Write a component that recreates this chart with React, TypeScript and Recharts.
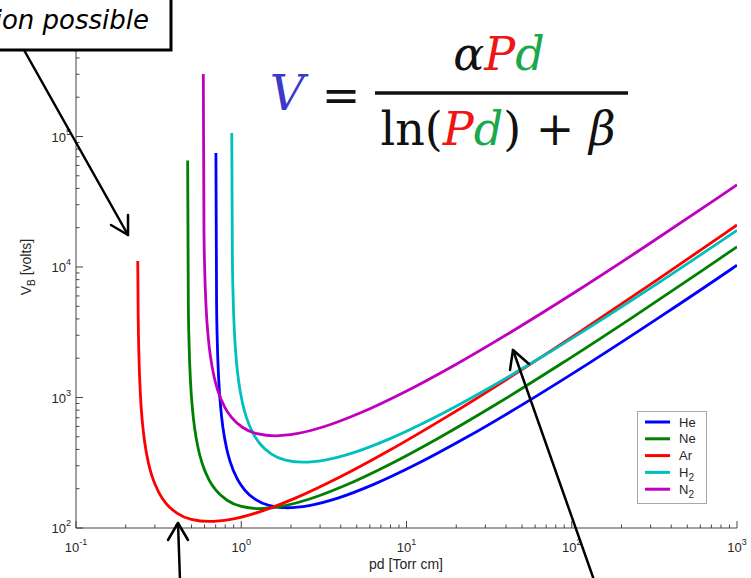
import React from 'react';
import { LineChart, Line, XAxis, YAxis } from 'recharts';

// pd [Torr cm] and breakdown voltage [V]
const pdHe = [0.7025, 0.709, 0.7162, 0.7306, 0.7529, 0.7758, 0.8156, 0.8574, 0.9476, 1.047, 1.217, 1.486, 1.908, 2.576, 3.843, 6.336, 11.54, 23.25, 51.74, 127.3, 345.9, 940.3, 1000];
const vHe = [74900, 5313, 2683, 1369, 806, 581, 407, 321, 236.7, 196.2, 165.7, 148.5, 143, 148.5, 169.4, 215.8, 308.9, 497.6, 901.6, 1834, 4181, 9784, 10320];

const pdNe = [0.4739, 0.4783, 0.4831, 0.4928, 0.5078, 0.5233, 0.5501, 0.5783, 0.6392, 0.7064, 0.8207, 1.002, 1.287, 1.737, 2.592, 4.273, 7.787, 15.68, 34.9, 85.83, 233.3, 634.2, 1000];
const vNe = [65400, 5232, 2642, 1348, 793.6, 572.4, 401.2, 316.3, 233.1, 193.2, 163.2, 146.2, 140.8, 146.2, 166.8, 212.5, 304.2, 490.1, 887.9, 1806, 4117, 9635, 14290];

const pdAr = [0.2364, 0.2379, 0.2403, 0.2451, 0.2526, 0.2603, 0.2736, 0.2876, 0.3179, 0.3513, 0.4082, 0.4986, 0.6402, 0.8641, 1.289, 2.125, 3.873, 7.799, 17.36, 42.69, 116, 315.4, 857.5, 1000];
const vAr = [11115, 4171, 2107, 1075, 632.7, 456.4, 319.9, 252.2, 185.9, 154, 130.1, 116.6, 112.3, 116.6, 133, 169.4, 242.6, 390.7, 707.9, 1440, 3283, 7682, 18337, 20993];

const pdH2 = [0.876, 0.8838, 0.8927, 0.9107, 0.9384, 0.9671, 1.017, 1.069, 1.181, 1.305, 1.517, 1.852, 2.379, 3.211, 4.79, 7.897, 14.39, 28.98, 64.49, 158.6, 431.2, 1000];
const vH2 = [106500, 11868, 5994, 3057, 1800, 1298, 910, 717.6, 528.8, 438.3, 370.2, 331.7, 319.4, 331.7, 378.4, 482, 690.1, 1112, 2014, 4096, 9339, 19073];

const pdN2 = [0.5894, 0.5949, 0.6009, 0.613, 0.6317, 0.651, 0.6843, 0.7194, 0.7951, 0.8787, 1.021, 1.247, 1.601, 2.161, 3.224, 5.316, 9.686, 19.51, 43.41, 106.8, 290.2, 788.9, 1000];
const vN2 = [301000, 18887, 9539, 4866, 2865, 2066, 1448, 1142, 841.5, 697.5, 589.2, 527.9, 508.3, 527.9, 602.1, 767.1, 1098, 1769, 3205, 6519, 14863, 34782, 42692];

const xDecades = [0.1, 1, 10, 100, 1000];
const yDecades = [100, 1000, 10000, 100000, 1000000];
const minorSteps = [2, 3, 4, 5, 6, 7, 8, 9];

const withMinor = (decades: number[]) =>
  decades.flatMap((d, i) => (i < decades.length - 1 ? [d, ...minorSteps.map((s) => d * s)] : [d]));

const xTicks = withMinor(xDecades);
const yTicks = withMinor(yDecades);

const series = [
  { name: 'He', pd: pdHe, v: vHe, color: '#0000ff' },
  { name: 'Ne', pd: pdNe, v: vNe, color: '#008000' },
  { name: 'Ar', pd: pdAr, v: vAr, color: '#ff0000' },
  { name: 'H', sub: '2', pd: pdH2, v: vH2, color: '#00bfbf' },
  { name: 'N', sub: '2', pd: pdN2, v: vN2, color: '#bf00bf' },
];

const AXIS = '#444';
const TEXT = '#262626';
const SANS = "'Liberation Sans', Arial, sans-serif";
const SERIF = "'DejaVu Serif', serif";

const isDecade = (v: number) => {
  const l = Math.log10(v);
  return Math.abs(l - Math.round(l)) < 1e-6;
};
const expOf = (v: number) => Math.round(Math.log10(v));

const BottomTick = ({ x, y, payload }: any) => {
  const major = isDecade(payload.value);
  return (
    <g>
      <line x1={x} y1={y} x2={x} y2={y - (major ? 7 : 3.5)} stroke={AXIS} />
      {major && (
        <text x={x} y={y + 24} textAnchor="middle" fontSize={13} fill={TEXT} fontFamily={SANS}>
          10<tspan dy={-7} fontSize={9}>{expOf(payload.value)}</tspan>
        </text>
      )}
    </g>
  );
};

const TopTick = ({ x, y, payload }: any) => (
  <line x1={x} y1={y} x2={x} y2={y + (isDecade(payload.value) ? 7 : 3.5)} stroke={AXIS} />
);

// the top decade label sits under the callout box in the original, so it is left out
const LeftTick = ({ x, y, payload }: any) => {
  const major = isDecade(payload.value);
  const showLabel = major && payload.value < 1000000;
  return (
    <g>
      <line x1={x} y1={y} x2={x + (major ? 7 : 3.5)} y2={y} stroke={AXIS} />
      {showLabel && (
        <text x={x - 5} y={y + 5} textAnchor="end" fontSize={13} fill={TEXT} fontFamily={SANS}>
          10<tspan dy={-7} fontSize={9}>{expOf(payload.value)}</tspan>
        </text>
      )}
    </g>
  );
};

const RightTick = ({ x, y, payload }: any) => (
  <line x1={x} y1={y} x2={x - (isDecade(payload.value) ? 7 : 3.5)} y2={y} stroke={AXIS} />
);

const Annotations = () => (
  <svg width={751} height={578} style={{ position: 'absolute', left: 0, top: 0, pointerEvents: 'none' }}>
    {/* axis titles */}
    <text x={406} y={569} textAnchor="middle" fontSize={14} fill={TEXT} fontFamily={SANS}>
      pd [Torr cm]
    </text>
    <text x={31} y={267} transform="rotate(-90 31 267)" textAnchor="middle" fontSize={14} fill={TEXT} fontFamily={SANS}>
      V<tspan dy={4} fontSize={10}>B</tspan>
      <tspan dy={-4}> [volts]</tspan>
    </text>

    {/* legend */}
    <rect x={637.5} y={411.5} width={69} height={92} fill="#fff" stroke="#a8a8a8" />
    {series.map((s, i) => {
      const cy = 422 + i * 16.8;
      return (
        <g key={s.name + i}>
          <line x1={645} x2={670} y1={cy} y2={cy} stroke={s.color} strokeWidth={3} />
          <text x={679} y={cy + 4.5} fontSize={13} fill={TEXT} fontFamily={SANS}>
            {s.name}
            {s.sub && (
              <tspan dy={4} fontSize={10}>
                {s.sub}
              </tspan>
            )}
          </text>
        </g>
      );
    })}

    {/* formula */}
    <text x={287} y={110} textAnchor="middle" fontSize={48} fontStyle="italic" fill="#3a3ac8" fontFamily={SERIF}>
      V
    </text>
    <text x={341} y={111} textAnchor="middle" fontSize={46} fill="#111" fontFamily={SERIF}>
      =
    </text>
    <line x1={375} x2={628} y1={93} y2={93} stroke="#111" strokeWidth={3.5} />
    <text x={499} y={70} textAnchor="middle" fontSize={46} fontStyle="italic" fontFamily={SERIF}>
      <tspan fill="#111">α</tspan>
      <tspan fill="#f01414">P</tspan>
      <tspan fill="#1aa84a">d</tspan>
    </text>
    <text x={498} y={145} textAnchor="middle" fontSize={46} fill="#111" fontFamily={SERIF}>
      ln(<tspan fontStyle="italic" fill="#f01414">P</tspan>
      <tspan fontStyle="italic" fill="#1aa84a">d</tspan>) + <tspan fontStyle="italic">β</tspan>
    </text>

    {/* callout */}
    <rect x={-20} y={-20} width={191} height={70} fill="#fff" stroke="#000" strokeWidth={3} />
    <text x={149} y={29} textAnchor="end" fontSize={26} fontStyle="italic" fill="#000" fontFamily="'Comic Sans MS', 'DejaVu Sans', sans-serif">
      No ionization possible
    </text>

    {/* arrows */}
    <g stroke="#000" strokeWidth={2.5} fill="none" strokeLinecap="round" strokeLinejoin="round">
      <line x1={24} y1={50} x2={128} y2={235} />
      <polyline points="111,225 128,235 128,215" />
      <line x1={180} y1={580} x2={178} y2={523} />
      <polyline points="168,540 178,523 188,540" />
      <line x1={594} y1={580} x2={513} y2={350} />
      <polyline points="510,370 513,350 529,364" />
    </g>
  </svg>
);

const App: React.FC = () => {
  return (
    <div style={{ position: 'absolute', left: 0, top: 0, width: 751, height: 578, background: '#fff' }}>
      <LineChart width={751} height={578} margin={{ top: 6, right: 14, bottom: 0, left: 0 }}>
        <XAxis
          xAxisId="b"
          dataKey="pd"
          type="number"
          scale="log"
          domain={[0.1, 1000]}
          allowDataOverflow
          ticks={xTicks}
          interval={0}
          height={50}
          tickSize={0}
          tickMargin={0}
          tickLine={false}
          axisLine={{ stroke: AXIS }}
          tick={BottomTick}
        />
        <XAxis
          xAxisId="t"
          orientation="top"
          dataKey="pd"
          type="number"
          scale="log"
          domain={[0.1, 1000]}
          allowDataOverflow
          ticks={xTicks}
          interval={0}
          height={0}
          tickSize={0}
          tickMargin={0}
          tickLine={false}
          axisLine={{ stroke: AXIS }}
          tick={TopTick}
        />
        <YAxis
          yAxisId="l"
          dataKey="v"
          type="number"
          scale="log"
          domain={[100, 1000000]}
          allowDataOverflow
          ticks={yTicks}
          interval={0}
          width={76}
          tickSize={0}
          tickMargin={0}
          tickLine={false}
          axisLine={{ stroke: AXIS }}
          tick={LeftTick}
        />
        <YAxis
          yAxisId="r"
          orientation="right"
          dataKey="v"
          type="number"
          scale="log"
          domain={[100, 1000000]}
          allowDataOverflow
          ticks={yTicks}
          interval={0}
          width={0}
          tickSize={0}
          tickMargin={0}
          tickLine={false}
          axisLine={{ stroke: AXIS }}
          tick={RightTick}
        />
        {series.map((s) => (
          <Line
            key={s.name + (s.sub || '')}
            xAxisId="b"
            yAxisId="l"
            data={s.pd.map((pd, i) => ({ pd, v: s.v[i] }))}
            dataKey="v"
            type="monotone"
            stroke={s.color}
            strokeWidth={2.8}
            dot={false}
            isAnimationActive={false}
          />
        ))}
      </LineChart>
      <Annotations />
    </div>
  );
};

export default App;
